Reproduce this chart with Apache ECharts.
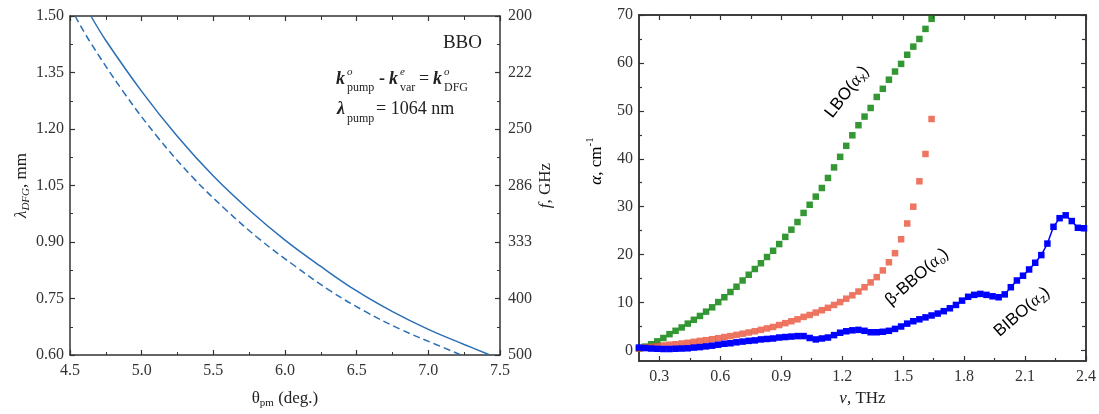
<!DOCTYPE html>
<html>
<head>
<meta charset="utf-8">
<title>BBO phase matching / THz absorption</title>
<script src="https://cdn.jsdelivr.net/npm/echarts@6/dist/echarts.min.js"></script>
<style>
html, body { margin: 0; padding: 0; background: #fff; }
#main { width: 1099px; height: 414px; }
</style>
</head>
<body>
<div id="main"></div>
<script>
// ---- left panel: BBO, lambda_DFG (mm) vs theta_pm (deg.)
var thetaSolid  = [4.646, 4.75, 5.0, 5.25, 5.5, 5.75, 6.0, 6.25, 6.5, 6.75, 7.0, 7.25, 7.43];
var lambdaSolid = [1.50, 1.435, 1.30, 1.18, 1.075, 0.985, 0.905, 0.835, 0.77, 0.715, 0.668, 0.628, 0.60];
var thetaDash   = [4.536, 4.634, 4.87, 5.108, 5.348, 5.589, 5.83, 6.074, 6.317, 6.562, 6.807, 7.053, 7.23];
var lambdaDash  = [1.50, 1.435, 1.30, 1.18, 1.075, 0.985, 0.905, 0.835, 0.77, 0.715, 0.668, 0.628, 0.60];
// right-hand axis labels (GHz), bottom to top
var ghzLabels = ['500', '400', '333', '286', '250', '222', '200'];

// ---- right panel: absorption coefficient alpha (cm^-1) vs nu (THz)
var freqLB = [0.20, 0.23, 0.26, 0.29, 0.32, 0.35, 0.38, 0.41, 0.44, 0.47,
	0.50, 0.53, 0.56, 0.59, 0.62, 0.65, 0.68, 0.71, 0.74, 0.77,
	0.80, 0.83, 0.86, 0.89, 0.92, 0.95, 0.98, 1.01, 1.04, 1.07,
	1.10, 1.13, 1.16, 1.19, 1.22, 1.25, 1.28, 1.31, 1.34, 1.37,
	1.40, 1.43, 1.46, 1.49, 1.52, 1.55, 1.58, 1.61, 1.64];
var alphaLBO = [0.4, 0.8, 1.3, 1.9, 2.6, 3.4, 4.1, 4.8, 5.6, 6.4,
	7.2, 8.1, 9.0, 10.1, 11.1, 12.2, 13.3, 14.6, 15.8, 17.0,
	18.2, 19.5, 20.8, 22.2, 23.7, 25.2, 26.8, 28.7, 30.4, 32.1,
	33.9, 36.0, 38.2, 40.4, 42.7, 44.9, 47.0, 48.8, 50.6, 52.9,
	54.6, 56.5, 58.2, 59.8, 61.7, 63.4, 65.0, 67.1, 69.2];
var alphaBBO = [0.4, 0.6, 0.75, 0.9, 1.05, 1.2, 1.3, 1.45, 1.6, 1.8,
	2.0, 2.15, 2.35, 2.55, 2.8, 3.0, 3.25, 3.5, 3.75, 4.0,
	4.3, 4.6, 4.9, 5.3, 5.7, 6.1, 6.5, 7.0, 7.4, 7.9,
	8.4, 8.9, 9.5, 10.1, 10.8, 11.5, 12.3, 13.2, 14.2, 15.3,
	16.7, 18.4, 20.3, 23.2, 26.5, 30.0, 35.3, 41.0, 48.3];
var freqBIBO = [0.20, 0.23, 0.26, 0.29, 0.32, 0.35, 0.38, 0.41, 0.44, 0.47,
	0.50, 0.53, 0.56, 0.59, 0.62, 0.65, 0.68, 0.71, 0.74, 0.77,
	0.80, 0.83, 0.86, 0.89, 0.92, 0.95, 0.98, 1.01, 1.04, 1.07,
	1.10, 1.13, 1.16, 1.19, 1.22, 1.25, 1.28, 1.31, 1.34, 1.37,
	1.40, 1.43, 1.46, 1.49, 1.52, 1.55, 1.58, 1.61, 1.64, 1.67,
	1.70, 1.73, 1.76, 1.79, 1.82, 1.85, 1.88, 1.91, 1.94, 1.97,
	2.00, 2.03, 2.06, 2.09, 2.12, 2.15, 2.18, 2.21, 2.24, 2.27,
	2.30, 2.33, 2.36, 2.39];
var alphaBIBO = [0.6, 0.5, 0.4, 0.35, 0.3, 0.3, 0.35, 0.4, 0.45, 0.6,
	0.7, 0.85, 1.0, 1.2, 1.4, 1.5, 1.7, 1.85, 2.0, 2.1,
	2.3, 2.4, 2.5, 2.7, 2.8, 2.9, 3.0, 3.0, 2.6, 2.3,
	2.5, 2.7, 3.2, 3.7, 4.0, 4.2, 4.3, 4.1, 3.8, 3.8,
	3.9, 4.1, 4.5, 5.0, 5.6, 6.1, 6.5, 6.9, 7.3, 7.7,
	8.2, 8.8, 9.5, 10.4, 11.2, 11.6, 11.8, 11.6, 11.3, 11.1,
	11.7, 13.2, 14.6, 15.6, 16.9, 18.3, 19.9, 22.3, 25.8, 27.6,
	28.2, 27.0, 25.6, 25.5];

// tick positions of the right panel (axis starts at 0.2 THz / -2.2 cm^-1)
var nuTicks = [0.3, 0.6, 0.9, 1.2, 1.5, 1.8, 2.1, 2.4];
var nuMinor = [0.45, 0.75, 1.05, 1.35, 1.65, 1.95, 2.25];
var alphaTicks = [0, 10, 20, 30, 40, 50, 60, 70];
var alphaMinor = [5, 15, 25, 35, 45, 55, 65];

function zip(xs, ys) {
	var out = [];
	for (var i = 0; i < xs.length; i++) {
		out.push([xs[i], ys[i]]);
	}
	return out;
}

var AX = '#333';
var SERIF = 'Liberation Serif';
var SANS = 'Liberation Sans';
var LINE_BLUE = '#2a6fb5';

var axisLineStyle = { show: true, onZero: false, lineStyle: { color: AX, width: 1.5 } };
var nameRich = {
	n: { fontFamily: SERIF, fontSize: 17, color: '#222' },
	i: { fontFamily: SERIF, fontSize: 17, fontStyle: 'italic', color: '#222' },
	s: { fontFamily: SERIF, fontSize: 11, color: '#222', padding: [10, 0, 0, 0] },
	si: { fontFamily: SERIF, fontSize: 11, fontStyle: 'italic', color: '#222', padding: [10, 0, 0, 0] },
	u: { fontFamily: SERIF, fontSize: 11, color: '#222', padding: [0, 0, 14, 0] }
};

// plain tick-only axis for the right panel
function tickAxis(pos, grid, values, len, min, max) {
	return {
		type: 'value', gridIndex: grid, position: pos, min: min, max: max,
		axisLine: axisLineStyle,
		axisTick: { show: true, inside: true, length: len, customValues: values, lineStyle: { color: AX, width: 1.2 } },
		axisLabel: { show: false },
		splitLine: { show: false }
	};
}

// one piece of the annotation text
function txt(x, y, s, font) {
	return { type: 'text', x: x, y: y, style: { text: s, font: font + ' ' + SERIF, fill: '#222', verticalAlign: 'middle' } };
}

var myChart = echarts.init(document.getElementById('main'));

var option = {
	backgroundColor: '#fff',
	animation: false,
	grid: [
		{ left: 70, top: 16, width: 430, height: 340 },
		{ left: 639, top: 15, width: 447, height: 346 }
	],
	xAxis: [
		{
			type: 'value', gridIndex: 0, position: 'bottom', min: 4.5, max: 7.5, interval: 0.5,
			axisLine: axisLineStyle,
			axisTick: { inside: true, length: 5, lineStyle: { color: AX, width: 1.2 } },
			minorTick: { show: true, splitNumber: 2, length: 3, lineStyle: { color: AX, width: 1 } },
			axisLabel: { color: '#333', fontFamily: SERIF, fontSize: 16, margin: 8, showMinLabel: true, showMaxLabel: true,
				formatter: function (v) { return v.toFixed(1); } },
			splitLine: { show: false },
			name: '{n|θ}{s|pm}{n| (deg.)}', nameLocation: 'middle', nameGap: 33,
			nameTextStyle: { rich: nameRich }
		},
		{
			type: 'value', gridIndex: 0, position: 'top', min: 4.5, max: 7.5, interval: 0.5,
			axisLine: axisLineStyle,
			axisTick: { inside: true, length: 5, lineStyle: { color: AX, width: 1.2 } },
			minorTick: { show: true, splitNumber: 2, length: 4, lineStyle: { color: AX, width: 1 } },
			axisLabel: { show: false },
			splitLine: { show: false }
		},
		{
			type: 'value', gridIndex: 1, position: 'bottom', min: 0.2, max: 2.4,
			axisLine: axisLineStyle,
			axisTick: { inside: true, length: 5, customValues: nuTicks, lineStyle: { color: AX, width: 1.2 } },
			axisLabel: { color: '#333', fontFamily: SERIF, fontSize: 16, margin: 8, customValues: nuTicks,
				formatter: function (v) { return v.toFixed(1); } },
			splitLine: { show: false },
			name: '{i|ν}{n|, THz}', nameLocation: 'middle', nameGap: 26,
			nameTextStyle: { rich: nameRich }
		},
		tickAxis('bottom', 1, nuMinor, 3, 0.2, 2.4),
		tickAxis('top', 1, nuTicks, 5, 0.2, 2.4),
		tickAxis('top', 1, nuMinor, 4, 0.2, 2.4)
	],
	yAxis: [
		{
			type: 'value', gridIndex: 0, position: 'left', min: 0.6, max: 1.5, interval: 0.15,
			axisLine: axisLineStyle,
			axisTick: { inside: true, length: 5, lineStyle: { color: AX, width: 1.2 } },
			minorTick: { show: true, splitNumber: 2, length: 3, lineStyle: { color: AX, width: 1 } },
			axisLabel: { color: '#333', fontFamily: SERIF, fontSize: 16, margin: 6, showMinLabel: true, showMaxLabel: true,
				formatter: function (v) { return v.toFixed(2); } },
			splitLine: { show: false },
			name: '{i|λ}{si|DFG}{n|, mm}', nameLocation: 'middle', nameGap: 38, nameRotate: 90,
			nameTextStyle: { rich: nameRich }
		},
		{
			type: 'value', gridIndex: 0, position: 'right', min: 0.6, max: 1.5, interval: 0.15,
			axisLine: axisLineStyle,
			axisTick: { inside: true, length: 5, lineStyle: { color: AX, width: 1.2 } },
			minorTick: { show: true, splitNumber: 2, length: 3, lineStyle: { color: AX, width: 1 } },
			axisLabel: { color: '#333', fontFamily: SERIF, fontSize: 16, margin: 8, showMinLabel: true, showMaxLabel: true,
				formatter: function (v, idx) { return ghzLabels[idx]; } },
			splitLine: { show: false },
			name: '{i|f}{n|, GHz}', nameLocation: 'middle', nameGap: 37, nameRotate: 90,
			nameTextStyle: { rich: nameRich }
		},
		{
			type: 'value', gridIndex: 1, position: 'left', min: -2.2, max: 70,
			axisLine: axisLineStyle,
			axisTick: { inside: true, length: 5, customValues: alphaTicks, lineStyle: { color: AX, width: 1.2 } },
			axisLabel: { color: '#333', fontFamily: SERIF, fontSize: 16, margin: 6, customValues: alphaTicks },
			splitLine: { show: false }
		},
		tickAxis('left', 1, alphaMinor, 3, -2.2, 70),
		tickAxis('right', 1, alphaTicks, 5, -2.2, 70),
		tickAxis('right', 1, alphaMinor, 4, -2.2, 70)
	],
	series: [
		{
			name: 'solid', type: 'line', xAxisIndex: 0, yAxisIndex: 0,
			data: zip(thetaSolid, lambdaSolid), smooth: 0.4, showSymbol: false, clip: true,
			lineStyle: { color: LINE_BLUE, width: 1.5 }
		},
		{
			name: 'dashed', type: 'line', xAxisIndex: 0, yAxisIndex: 0,
			data: zip(thetaDash, lambdaDash), smooth: 0.4, showSymbol: false, clip: true,
			lineStyle: { color: LINE_BLUE, width: 1.5, type: [7, 4] }
		},
		{
			name: 'BIBO', type: 'line', xAxisIndex: 2, yAxisIndex: 2,
			data: zip(freqBIBO, alphaBIBO), symbol: 'rect', symbolSize: 6.5, showAllSymbol: true, clip: true,
			itemStyle: { color: '#0000ff' },
			lineStyle: { color: '#0000ff', width: 1.5 }
		},
		{
			name: 'LBO', type: 'scatter', xAxisIndex: 2, yAxisIndex: 2,
			data: zip(freqLB, alphaLBO), symbol: 'rect', symbolSize: 6.5, clip: true,
			itemStyle: { color: '#007d00' }
		},
		{
			name: 'BBO', type: 'scatter', xAxisIndex: 2, yAxisIndex: 2,
			data: zip(freqLB, alphaBBO), symbol: 'rect', symbolSize: 6.5, clip: true,
			itemStyle: { color: '#e8523a' }
		}
	],
	graphic: [
		// alpha axis title (sits above the axis middle)
		{ type: 'text', x: 597, y: 161, rotation: Math.PI / 2,
			style: { text: '{i|α}{n|, cm}{u|-1}', rich: nameRich, align: 'center', verticalAlign: 'middle' } },

		// annotation block, left panel
		{ type: 'text', x: 482, y: 43.5, style: { text: 'BBO', font: '19px ' + SERIF, fill: '#222', align: 'right', verticalAlign: 'middle' } },

		txt(336, 79.5, 'k', 'italic bold 18px'),
		txt(347, 72, 'o', 'italic 11px'),
		txt(347, 88, 'pump', '12px'),
		txt(379, 79.5, '-', 'bold 18px'),
		txt(389, 79.5, 'k', 'italic bold 18px'),
		txt(400, 72, 'e', 'italic 11px'),
		txt(400, 88, 'var', '12px'),
		txt(419, 79.5, '=', '18px'),
		txt(433, 79.5, 'k', 'italic bold 18px'),
		txt(444, 72, 'o', 'italic 11px'),
		txt(444, 88, 'DFG', '12px'),

		txt(337, 109, 'λ', 'italic bold 18px'),
		txt(347, 119, 'pump', '12px'),
		txt(376, 109, '= 1064 nm', '18px'),

		// crystal labels, right panel
		{ type: 'text', x: 847, y: 92, rotation: 52 * Math.PI / 180,
			style: { text: '{n|LBO(}{a|α}{s|x}{n|)}', align: 'center', verticalAlign: 'middle',
				rich: {
					n: { fontFamily: SANS, fontSize: 17, color: '#007d00' },
					a: { fontFamily: SERIF, fontSize: 17, fontStyle: 'italic', color: '#007d00' },
					s: { fontFamily: SANS, fontSize: 12, color: '#007d00', padding: [9, 0, 0, 0] }
				} } },
		{ type: 'text', x: 917, y: 277, rotation: 41 * Math.PI / 180,
			style: { text: '{n|β-BBO(}{a|α}{s|o}{n|)}', align: 'center', verticalAlign: 'middle',
				rich: {
					n: { fontFamily: SANS, fontSize: 17, color: '#e8523a' },
					a: { fontFamily: SERIF, fontSize: 17, fontStyle: 'italic', color: '#e8523a' },
					s: { fontFamily: SERIF, fontSize: 12, fontStyle: 'italic', color: '#e8523a', padding: [9, 0, 0, 0] }
				} } },
		{ type: 'text', x: 1022, y: 312, rotation: 40.5 * Math.PI / 180,
			style: { text: '{n|BIBO(}{a|α}{s|z}{n|)}', align: 'center', verticalAlign: 'middle',
				rich: {
					n: { fontFamily: SANS, fontSize: 17, color: '#0000ff' },
					a: { fontFamily: SERIF, fontSize: 17, fontStyle: 'italic', color: '#0000ff' },
					s: { fontFamily: SANS, fontSize: 12, color: '#0000ff', padding: [9, 0, 0, 0] }
				} } }
	]
};

myChart.setOption(option);
</script>
</body>
</html>
